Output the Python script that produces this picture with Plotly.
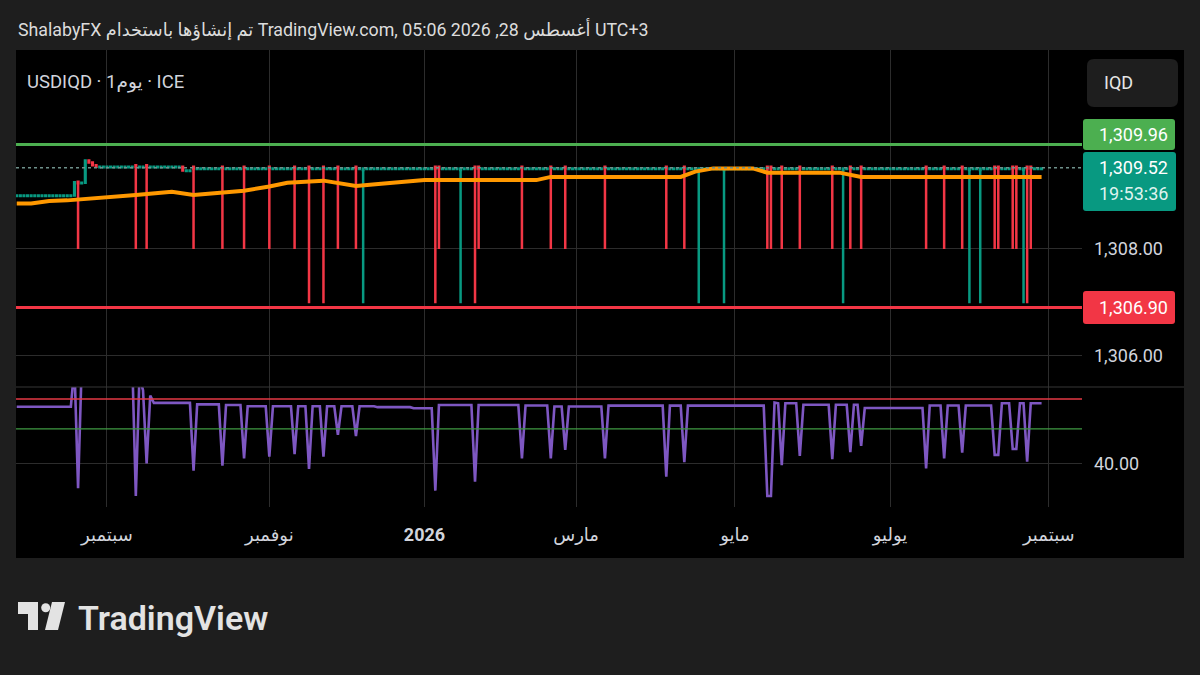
import pandas as pd
import plotly.graph_objects as go

# ---------------- values ----------------
bar_first = "2025-07-28"
bar_last = "2026-08-28"

# closing level of the daily candles, held from each date until the next
close_level_dates = ["2025-07-28", "2025-08-19", "2025-08-20", "2025-08-21", "2025-08-22",
                     "2025-08-25", "2025-08-26", "2025-08-27", "2025-09-30", "2025-10-03"]
close_levels = [1309.00, 1309.25, 1309.23, 1309.24, 1309.66,
                1309.62, 1309.57, 1309.54, 1309.47, 1309.51]

# days with a long lower wick
wick_dates = ["2025-08-20", "2025-09-11", "2025-09-16", "2025-10-03", "2025-10-15", "2025-10-23",
              "2025-11-03", "2025-11-12", "2025-11-18", "2025-11-24", "2025-11-28", "2025-12-05",
              "2025-12-09", "2026-01-06", "2026-01-07", "2026-01-15", "2026-01-21", "2026-01-22",
              "2026-02-09", "2026-02-19", "2026-02-25", "2026-03-12", "2026-04-06", "2026-04-13",
              "2026-04-17", "2026-04-28", "2026-05-14", "2026-05-15", "2026-05-20", "2026-05-27",
              "2026-06-09", "2026-06-12", "2026-06-16", "2026-06-19", "2026-07-15", "2026-07-22",
              "2026-07-29", "2026-07-31", "2026-08-05", "2026-08-11", "2026-08-12", "2026-08-18",
              "2026-08-19", "2026-08-21", "2026-08-24", "2026-08-25"]
wick_lows = [1308.00, 1308.00, 1308.00, 1308.00, 1308.00, 1308.00,
             1308.00, 1308.00, 1306.98, 1306.98, 1308.00, 1308.00,
             1306.98, 1306.98, 1308.00, 1306.98, 1306.98, 1308.00,
             1308.00, 1308.00, 1308.00, 1308.00, 1308.00, 1308.00,
             1306.98, 1306.98, 1308.00, 1308.00, 1308.00, 1308.00,
             1308.00, 1306.98, 1308.00, 1308.00, 1308.00, 1308.00,
             1308.00, 1306.98, 1306.98, 1308.00, 1308.00, 1308.00,
             1308.00, 1306.98, 1306.98, 1308.00]
wick_up = [False, False, False, False, False, False,
           False, False, False, False, False, False,
           True, False, False, True, False, False,
           False, False, False, False, False, False,
           True, True, False, False, False, False,
           False, True, False, False, False, False,
           False, True, True, False, False, False,
           False, True, False, False]

# orange moving average
ma_dates = ["2025-07-28", "2025-08-01", "2025-08-08", "2025-08-15", "2025-09-11", "2025-09-25",
            "2025-10-03", "2025-10-23", "2025-11-03", "2025-11-10", "2025-11-24", "2025-11-28",
            "2025-12-05", "2025-12-16", "2026-01-01", "2026-02-13", "2026-02-19", "2026-04-10",
            "2026-04-16", "2026-04-23", "2026-05-08", "2026-05-14", "2026-06-11", "2026-06-19",
            "2026-08-28"]
ma_values = [1308.85, 1308.85, 1308.90, 1308.91, 1309.01, 1309.07,
             1309.01, 1309.09, 1309.17, 1309.24, 1309.28, 1309.23,
             1309.18, 1309.22, 1309.29, 1309.29, 1309.35, 1309.35,
             1309.45, 1309.51, 1309.51, 1309.43, 1309.43, 1309.35,
             1309.35]

# oscillator (lower pane): resting level held from each date, plus single-day moves
osc_level_dates = ["2025-07-28", "2025-08-22", "2025-09-18", "2025-10-06", "2025-10-16",
                   "2025-10-24", "2025-12-15", "2025-12-29", "2026-01-07", "2026-02-10",
                   "2026-02-20", "2026-03-13", "2026-05-18", "2026-05-28", "2026-06-22",
                   "2026-07-16", "2026-08-13"]
osc_levels = [66.4, 88.0, 68.2, 67.5, 67.2,
              66.6, 66.2, 65.7, 67.2, 67.0,
              66.5, 66.9, 68.0, 67.3, 65.8,
              67.0, 68.0]
osc_move_dates = ["2025-08-19", "2025-08-20", "2025-08-21", "2025-09-11", "2025-09-12",
                  "2025-09-15", "2025-09-16", "2025-09-17", "2025-10-03", "2025-10-15",
                  "2025-10-23", "2025-11-03", "2025-11-12", "2025-11-18", "2025-11-24",
                  "2025-11-28", "2025-12-05", "2026-01-06", "2026-01-21", "2026-02-09",
                  "2026-02-19", "2026-02-25", "2026-03-12", "2026-04-06", "2026-04-13",
                  "2026-05-14", "2026-05-15", "2026-05-18", "2026-05-20", "2026-05-27",
                  "2026-06-09", "2026-06-16", "2026-06-19", "2026-07-15", "2026-07-22",
                  "2026-07-29", "2026-08-11", "2026-08-12", "2026-08-18", "2026-08-19",
                  "2026-08-24"]
osc_move_values = [85.0, 28.8, 85.0, 25.2, 80.0,
                   74.0, 40.3, 71.5, 36.9, 39.2,
                   42.6, 43.4, 44.5, 37.7, 43.4,
                   53.4, 52.9, 27.7, 31.8, 42.6,
                   42.6, 46.5, 42.6, 34.1, 40.8,
                   25.2, 25.2, 68.3, 39.5, 43.7,
                   42.2, 45.4, 48.3, 38.0, 42.6,
                   45.2, 44.2, 44.2, 46.9, 46.9,
                   41.1]

upper_level = 1309.96
lower_level = 1306.90
last_price = 1309.52
last_time = "19:53:36"
osc_upper = 70.0
osc_lower = 56.2

month_ticks = ["2025-09-01", "2025-11-03", "2026-01-01", "2026-03-02", "2026-05-01", "2026-07-01", "2026-09-01"]
month_labels = ["سبتمبر", "نوفمبر", "<b>2026</b>", "مارس", "مايو", "يوليو", "سبتمبر"]
price_ticks = [1306, 1308]
price_tick_labels = ["1,306.00", "1,308.00"]
osc_ticks = [40]
osc_tick_labels = ["40.00"]

header_text = "ShalabyFX تم إنشاؤها باستخدام TradingView.com, أغسطس 28, 2026 05:06 UTC+3"
symbol_text = "USDIQD · 1يوم · ICE"
currency_text = "IQD"

# ---------------- build candle table ----------------
dates = pd.bdate_range(bar_first, bar_last)
closes = (pd.Series(close_levels, index=pd.to_datetime(close_level_dates))
          .reindex(dates, method="ffill"))
w_low = dict(zip(pd.to_datetime(wick_dates), wick_lows))
w_up = dict(zip(pd.to_datetime(wick_dates), wick_up))
opens, highs, lows = [], [], []
prev = closes.iloc[0]
for d, c in closes.items():
    o = prev
    if d in w_low:
        o = min(prev, c - 0.03) if w_up[d] else max(prev, c + 0.03)
        lo = w_low[d]
    else:
        if abs(o - c) < 1e-9:
            o = c - 0.01
        lo = min(o, c) - 0.01
    opens.append(o)
    lows.append(lo)
    highs.append(max(o, c) + 0.015)
    prev = c

osc = (pd.Series(osc_levels, index=pd.to_datetime(osc_level_dates))
       .reindex(dates, method="ffill"))
for d, v in zip(pd.to_datetime(osc_move_dates), osc_move_values):
    osc.loc[d] = v

# ---------------- styling ----------------
W, H = 1200, 675
def fx(x):
    return x / W
def fy(y):
    return 1 - y / H

BG_OUT = "#1e1e1e"
GRID = "#2c2c2c"
TXT = "#d1d4dc"
TEAL = "#089981"
RED = "#f23645"
GREEN = "#4caf50"
FONT = "Roboto, 'DejaVu Sans', sans-serif"

fig = go.Figure()
fig.add_trace(go.Scatter(x=ma_dates, y=ma_values, mode="lines",
                         line=dict(color="#ff9800", width=4), xaxis="x", yaxis="y",
                         hoverinfo="skip"))
fig.add_trace(go.Candlestick(x=dates, open=opens, high=highs, low=lows, close=closes.values,
                             increasing=dict(line=dict(color=TEAL, width=2.5), fillcolor=TEAL),
                             decreasing=dict(line=dict(color=RED, width=2.5), fillcolor=RED),
                             whiskerwidth=0, xaxis="x", yaxis="y"))
fig.add_trace(go.Scatter(x=dates, y=osc.values, mode="lines",
                         line=dict(color="#7e57c2", width=2.6), xaxis="x2", yaxis="y2",
                         hoverinfo="skip"))

x_range = ["2025-07-25 19:12", "2026-09-14 04:48"]
rb = [dict(bounds=["sat", "mon"])]
xdom = [fx(16), fx(1082)]

def rrect(x0, y0, x1, y1, r):
    return (f"M {fx(x0 + r)},{fy(y0)} L {fx(x1 - r)},{fy(y0)} Q {fx(x1)},{fy(y0)} {fx(x1)},{fy(y0 + r)} "
            f"L {fx(x1)},{fy(y1 - r)} Q {fx(x1)},{fy(y1)} {fx(x1 - r)},{fy(y1)} "
            f"L {fx(x0 + r)},{fy(y1)} Q {fx(x0)},{fy(y1)} {fx(x0)},{fy(y1 - r)} "
            f"L {fx(x0)},{fy(y0 + r)} Q {fx(x0)},{fy(y0)} {fx(x0 + r)},{fy(y0)} Z")

LOGO = "#e3e3e3"
shapes = [
    # black chart canvas
    dict(type="rect", xref="paper", yref="paper", x0=fx(16), x1=fx(1184), y0=fy(558), y1=fy(50),
         fillcolor="#000000", line=dict(width=0), layer="below"),
    # pane separator
    dict(type="line", xref="paper", yref="paper", x0=fx(16), x1=fx(1184), y0=fy(387), y1=fy(387),
         line=dict(color="#363636", width=1)),
    # horizontal levels
    dict(type="line", xref="x domain", yref="y", x0=0, x1=1, y0=upper_level, y1=upper_level,
         line=dict(color=GREEN, width=3)),
    dict(type="line", xref="x domain", yref="y", x0=0, x1=1, y0=lower_level, y1=lower_level,
         line=dict(color=RED, width=3)),
    dict(type="line", xref="x domain", yref="y", x0=0, x1=1, y0=last_price, y1=last_price,
         line=dict(color="#6f918b", width=1.5, dash="dot")),
    dict(type="line", xref="x2 domain", yref="y2", x0=0, x1=1, y0=osc_upper, y1=osc_upper,
         line=dict(color="#e53945", width=1.5)),
    dict(type="line", xref="x2 domain", yref="y2", x0=0, x1=1, y0=osc_lower, y1=osc_lower,
         line=dict(color="#3f9a43", width=1.2)),
    # currency box
    dict(type="path", xref="paper", yref="paper", path=rrect(1087, 59, 1178, 107, 7),
         fillcolor="#1e1e1e", line=dict(width=0)),
    # price label boxes
    dict(type="path", xref="paper", yref="paper", path=rrect(1083, 119, 1175, 150, 3),
         fillcolor=GREEN, line=dict(width=0)),
    dict(type="path", xref="paper", yref="paper", path=rrect(1083, 152, 1176, 211, 3),
         fillcolor=TEAL, line=dict(width=0)),
    dict(type="path", xref="paper", yref="paper", path=rrect(1083, 291, 1175, 324, 3),
         fillcolor=RED, line=dict(width=0)),
    # TradingView logo mark
    dict(type="path", xref="paper", yref="paper",
         path=f"M {fx(18)},{fy(602)} L {fx(38)},{fy(602)} L {fx(38)},{fy(630)} L {fx(28)},{fy(630)} "
              f"L {fx(28)},{fy(614)} L {fx(18)},{fy(614)} Z",
         fillcolor=LOGO, line=dict(width=0)),
    dict(type="circle", xref="paper", yref="paper", x0=fx(41.2), x1=fx(50.2), y0=fy(612.2), y1=fy(603.2),
         fillcolor=LOGO, line=dict(width=0)),
    dict(type="path", xref="paper", yref="paper",
         path=f"M {fx(52)},{fy(602)} L {fx(65)},{fy(602)} L {fx(58)},{fy(630)} L {fx(45)},{fy(630)} Z",
         fillcolor=LOGO, line=dict(width=0)),
]

annotations = [
    dict(text=header_text, xref="paper", yref="paper", x=fx(16), y=fy(30), xanchor="left",
         yanchor="middle", showarrow=False, font=dict(family=FONT, size=17.8, color="#dcdcdc")),
    dict(text=symbol_text, xref="paper", yref="paper", x=fx(25), y=fy(82), xanchor="left",
         yanchor="middle", showarrow=False, font=dict(family=FONT, size=18.5, color=TXT)),
    dict(text=currency_text, xref="paper", yref="paper", x=fx(1102), y=fy(83), xanchor="left",
         yanchor="middle", showarrow=False, font=dict(family=FONT, size=18, color="#e6e6e6")),
    dict(text=f"{upper_level:,.2f}", xref="paper", yref="paper", x=fx(1097), y=fy(134.5),
         xanchor="left", yanchor="middle", showarrow=False,
         font=dict(family=FONT, size=18, color="#ffffff")),
    dict(text=f"{last_price:,.2f}", xref="paper", yref="paper", x=fx(1097), y=fy(167),
         xanchor="left", yanchor="middle", showarrow=False,
         font=dict(family=FONT, size=18, color="#ffffff")),
    dict(text=last_time, xref="paper", yref="paper", x=fx(1097), y=fy(194),
         xanchor="left", yanchor="middle", showarrow=False,
         font=dict(family=FONT, size=18, color="#dff3ee")),
    dict(text=f"{lower_level:,.2f}", xref="paper", yref="paper", x=fx(1097), y=fy(307),
         xanchor="left", yanchor="middle", showarrow=False,
         font=dict(family=FONT, size=18, color="#ffffff")),
    dict(text="TradingView", xref="paper", yref="paper", x=fx(76), y=fy(618), xanchor="left",
         yanchor="middle", showarrow=False,
         font=dict(family="Roboto, sans-serif", size=34, color=LOGO, weight=600)),
]

fig.update_layout(
    template="none",
    width=W, height=H,
    margin=dict(l=0, r=0, t=0, b=0, pad=0),
    paper_bgcolor=BG_OUT,
    plot_bgcolor="#000000",
    showlegend=False,
    boxgap=0.75,
    font=dict(family=FONT, color=TXT),
    shapes=shapes,
    annotations=annotations,
    xaxis=dict(domain=xdom, anchor="y", type="date", range=x_range, rangebreaks=rb,
               tickvals=month_ticks, showticklabels=False, ticks="",
               showgrid=True, gridcolor=GRID, gridwidth=1, zeroline=False, showline=False,
               rangeslider=dict(visible=False), automargin=False),
    xaxis2=dict(domain=xdom, anchor="y2", type="date", matches="x", range=x_range, rangebreaks=rb,
                tickvals=month_ticks, ticktext=month_labels, ticks="", ticklabelstandoff=15,
                tickfont=dict(family=FONT, size=18, color=TXT),
                showgrid=True, gridcolor=GRID, gridwidth=1, zeroline=False, showline=False,
                rangeslider=dict(visible=False), automargin=False),
    yaxis=dict(domain=[fy(387), fy(50)], anchor="x", side="right", range=[1305.41, 1311.73],
               tickvals=price_ticks, ticktext=price_tick_labels, ticks="", ticklabelstandoff=11,
               tickfont=dict(family=FONT, size=18, color=TXT),
               showgrid=True, gridcolor=GRID, gridwidth=1, zeroline=False, showline=False,
               automargin=False, fixedrange=True),
    yaxis2=dict(domain=[fy(507), fy(387)], anchor="x2", side="right", range=[20.16, 75.5],
                tickvals=osc_ticks, ticktext=osc_tick_labels, ticks="", ticklabelstandoff=11,
                tickfont=dict(family=FONT, size=18, color=TXT),
                showgrid=True, gridcolor=GRID, gridwidth=1, zeroline=False, showline=False,
                automargin=False, fixedrange=True),
)

fig.write_html("out.html", config={"displayModeBar": False},
               post_script="document.body.style.margin='0px';document.body.style.overflow='hidden';")
